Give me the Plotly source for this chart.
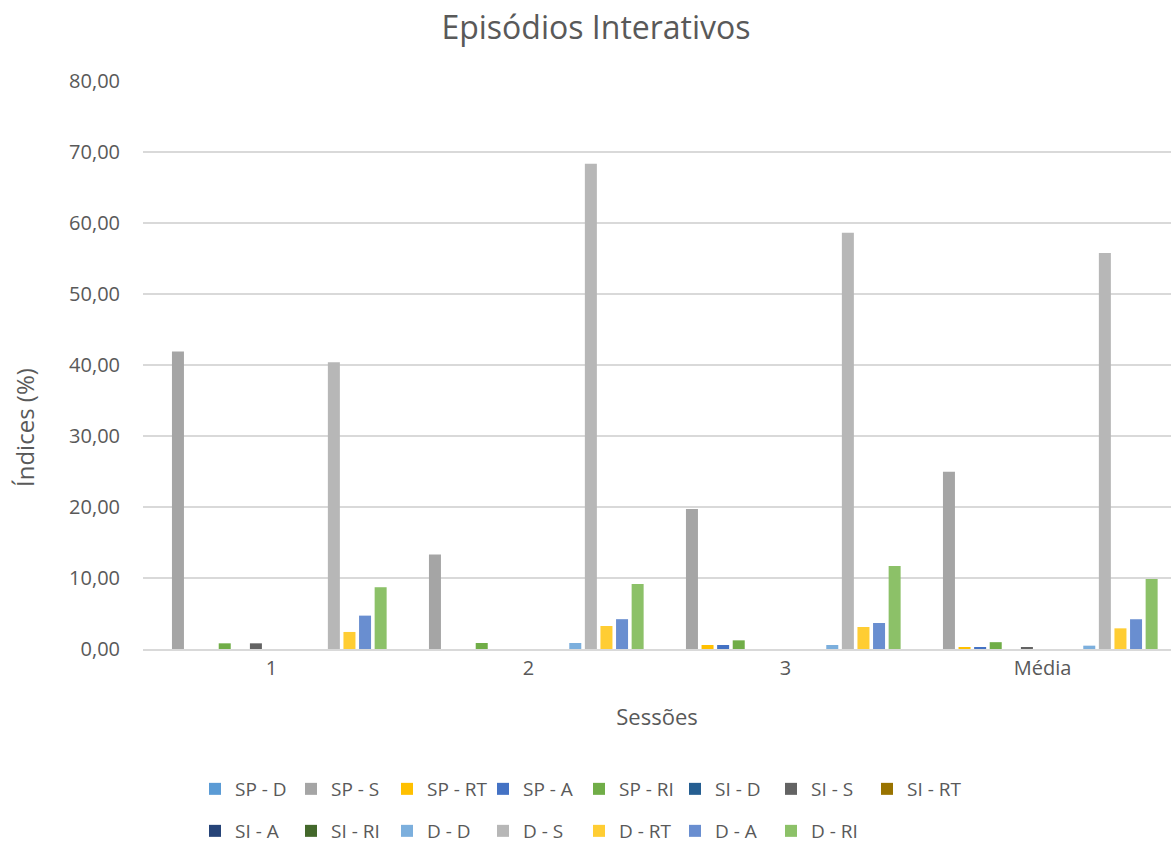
import plotly.graph_objects as go

sessions = ["1", "2", "3", "Média"]

series_names = [
    "SP - D", "SP - S", "SP - RT", "SP - A", "SP - RI",
    "SI - D", "SI - S", "SI - RT", "SI - A", "SI - RI",
    "D - D", "D - S", "D - RT", "D - A", "D - RI",
]

sp_d = [0.00, 0.00, 0.00, 0.00]
sp_s = [41.90, 13.30, 19.72, 24.97]
sp_rt = [0.00, 0.00, 0.56, 0.19]
sp_a = [0.00, 0.00, 0.56, 0.19]
sp_ri = [0.80, 0.85, 1.22, 0.96]
si_d = [0.00, 0.00, 0.00, 0.00]
si_s = [0.80, 0.00, 0.00, 0.27]
si_rt = [0.00, 0.00, 0.00, 0.00]
si_a = [0.00, 0.00, 0.00, 0.00]
si_ri = [0.00, 0.00, 0.00, 0.00]
d_d = [0.00, 0.85, 0.56, 0.47]
d_s = [40.37, 68.35, 58.63, 55.78]
d_rt = [2.40, 3.24, 3.10, 2.91]
d_a = [4.70, 4.20, 3.66, 4.19]
d_ri = [8.70, 9.15, 11.70, 9.85]

series_values = [
    sp_d, sp_s, sp_rt, sp_a, sp_ri,
    si_d, si_s, si_rt, si_a, si_ri,
    d_d, d_s, d_rt, d_a, d_ri,
]

colors = [
    "#5B9BD5", "#A5A5A5", "#FFC000", "#4472C4", "#70AD47",
    "#255E91", "#636363", "#997300", "#264478", "#43682B",
    "#7CAFDD", "#B7B7B7", "#FFCD33", "#698ED0", "#8CC168",
]

y_ticks = [0, 10, 20, 30, 40, 50, 60, 70, 80]

FONT = "Open Sans"
TEXT = "#595959"
GRID = "#D9D9D9"

fig = go.Figure()
for i, (name, vals, col) in enumerate(zip(series_names, series_values, colors)):
    fig.add_trace(go.Bar(
        x=sessions, y=vals, name=name,
        marker=dict(color=col, line=dict(width=0)),
        legend="legend" if i < 8 else "legend2",
    ))

legend_style = dict(
    orientation="h",
    xref="container", yref="container",
    xanchor="left", yanchor="middle",
    font=dict(family=FONT, size=19, color=TEXT),
    entrywidth=51, entrywidthmode="pixels",
    itemwidth=30, tracegroupgap=0,
    bgcolor="rgba(0,0,0,0)",
)

fig.update_layout(
    width=1171, height=846,
    paper_bgcolor="white", plot_bgcolor="white",
    margin=dict(l=143, r=0, t=81, b=197),
    separators=",.",
    barmode="group", bargap=0.09, bargroupgap=0.23,
    title=dict(text="Episódios Interativos", x=596 / 1171, xanchor="center",
               y=1 - 28 / 846, yanchor="middle",
               font=dict(family=FONT, size=32, color=TEXT)),
    legend=dict(x=195 / 1171, y=1 - 789 / 846, **legend_style),
    legend2=dict(x=195 / 1171, y=1 - 831 / 846, **legend_style),
    showlegend=True,
    annotations=[dict(
        text="Índices (%)", textangle=-90, showarrow=False,
        xref="paper", yref="paper",
        x=(24 - 143) / 1028, y=(649 - 428) / 568,
        xanchor="center", yanchor="middle",
        font=dict(family=FONT, size=24, color=TEXT),
    )],
)

fig.update_xaxes(
    type="category",
    showgrid=False, showline=True, linecolor=GRID, linewidth=1.5,
    ticks="", tickfont=dict(family=FONT, size=20, color=TEXT),
    title=dict(text="Sessões", font=dict(family=FONT, size=22, color=TEXT), standoff=30),
)

fig.update_yaxes(
    range=[0, 80], tickvals=y_ticks, tickformat=".2f",
    showgrid=True, gridcolor=GRID, gridwidth=1.5,
    zeroline=False, showline=False, ticks="",
    ticklabelstandoff=22,
    tickfont=dict(family=FONT, size=20, color=TEXT),
)

fig.write_html("out.html")
